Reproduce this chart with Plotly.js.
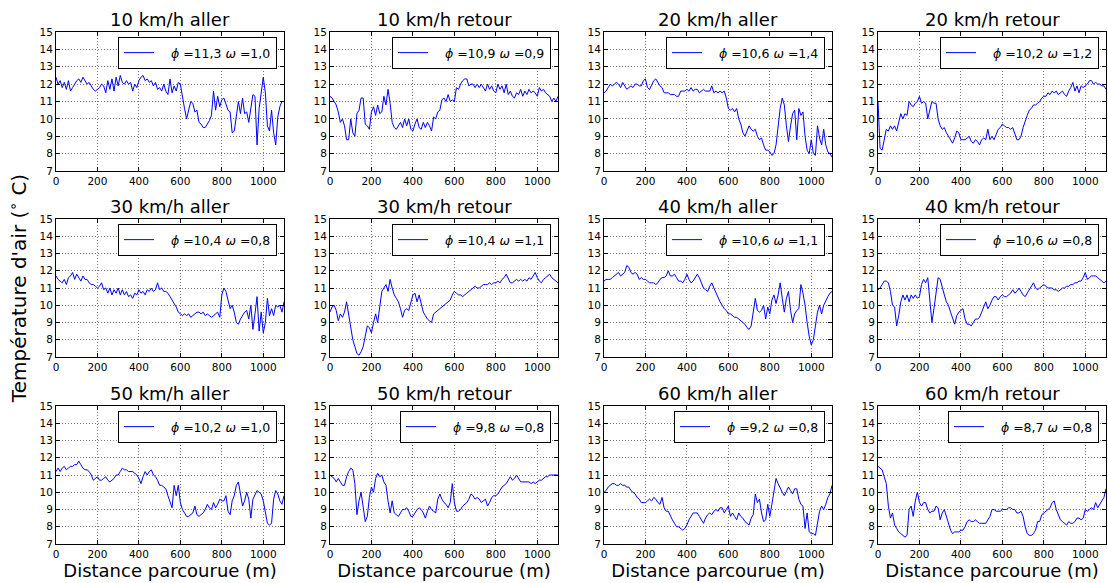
<!DOCTYPE html>
<html><head><meta charset="utf-8">
<script src="https://cdn.plot.ly/plotly-3.0.1.min.js"></script>
<style>html,body{margin:0;padding:0;background:#fff}</style>
</head><body><div id="chart" style="width:1108px;height:583px"></div>
<script>
// Distance parcourue (m) — sample positions
const distance = [
  0,10,20,30,40,50,60,70,80,90,
  100,110,120,130,140,150,160,170,180,190,
  200,210,220,230,240,250,260,270,280,290,
  300,310,320,330,340,350,360,370,380,390,
  400,410,420,430,440,450,460,470,480,490,
  500,510,520,530,540,550,560,570,580,590,
  600,610,620,630,640,650,660,670,680,690,
  700,710,720,730,740,750,760,770,780,790,
  800,810,820,830,840,850,860,870,880,890,
  900,910,920,930,940,950,960,970,980,990,
  1000,1010,1020,1030,1040,1050,1060,1070,1080,1090,
  1100];

const panelTitles = ["10 km/h aller","10 km/h retour","20 km/h aller","20 km/h retour",
                     "30 km/h aller","30 km/h retour","40 km/h aller","40 km/h retour",
                     "50 km/h aller","50 km/h retour","60 km/h aller","60 km/h retour"];
const phiValues   = ["11,3","10,9","10,6","10,2","10,4","10,4","10,6","10,6","10,2","9,8","9,2","8,7"];
const omegaValues = ["1,0","0,9","1,4","1,2","0,8","1,1","1,1","0,8","1,0","0,8","0,8","0,8"];
const xTickValues = [0,200,400,600,800,1000];
const yTickValues = [7,8,9,10,11,12,13,14,15];

const t10Aller = [
  12.4,12.0,12.2,11.8,12.1,11.7,12.2,11.6,11.8,12.0,
  12.2,12.3,12.1,12.4,12.2,12.0,12.1,11.9,11.7,11.6,
  11.7,11.8,12.0,11.9,11.5,12.2,11.7,12.3,11.6,12.4,
  11.9,12.5,12.1,12.0,12.2,12.0,12.1,11.6,12.0,11.8,
  12.2,12.4,12.5,12.2,12.3,12.1,12.2,11.9,12.1,11.7,
  11.8,11.6,12.0,11.6,11.4,12.3,11.5,11.9,11.6,12.1,
  12.0,11.2,10.6,10.0,10.5,11.0,10.9,10.4,10.5,9.8,
  9.7,9.5,9.5,9.7,9.9,10.2,11.6,10.5,11.3,10.7,
  11.1,11.2,10.8,10.5,10.4,9.2,9.3,10.2,11.0,10.3,
  11.2,10.3,10.4,9.8,10.6,11.4,11.3,8.5,10.6,11.5,
  12.4,11.5,9.6,9.3,10.5,9.2,8.5,10.1,10.7,11.0,
  11.0];
const t10Retour = [
  11.3,11.2,11.0,10.8,10.4,9.8,10.0,9.6,8.8,8.8,
  10.0,9.2,9.0,10.3,10.5,11.2,11.2,9.7,9.6,9.4,
  10.4,10.7,10.2,10.8,10.3,10.4,11.3,10.8,11.7,10.9,
  9.8,9.5,9.4,9.6,9.8,9.5,10.0,9.6,10.0,9.4,
  9.3,9.7,10.0,9.5,9.4,9.8,9.5,9.8,9.6,9.3,
  10.1,10.0,10.4,10.5,11.1,11.2,11.0,11.4,11.0,11.1,
  11.0,11.8,11.7,12.0,12.2,12.3,12.3,11.9,12.0,12.0,
  11.8,12.0,11.8,12.0,11.8,11.6,12.0,11.7,11.9,11.6,
  11.5,12.0,11.7,11.9,11.5,12.0,11.4,11.6,11.3,11.2,
  11.5,11.4,11.7,11.3,11.6,11.4,11.7,11.5,11.6,11.5,
  11.3,11.8,11.6,11.7,11.5,11.4,11.3,11.0,11.2,11.0,
  11.3];
const t20Aller = [
  11.5,11.6,11.8,12.0,11.9,12.0,12.1,12.0,11.8,12.1,
  11.9,11.7,11.8,11.9,11.8,12.0,12.0,11.9,11.9,12.2,
  12.3,11.8,11.7,12.0,12.2,12.3,12.1,11.9,11.8,11.5,
  11.5,11.5,11.4,11.4,11.4,11.3,11.3,11.6,11.6,11.6,
  11.7,11.6,11.8,11.6,11.7,11.7,11.5,11.6,11.7,11.6,
  11.6,11.6,11.9,11.5,11.6,11.5,11.6,11.5,11.6,11.2,
  10.6,10.5,10.6,10.4,10.6,10.0,9.7,9.2,9.0,9.3,
  9.6,9.4,9.3,9.4,9.0,8.8,8.9,8.5,8.2,8.2,
  8.1,7.9,8.0,8.5,9.6,10.6,11.2,10.8,9.6,8.7,
  9.6,10.3,10.5,8.8,10.6,10.2,10.4,9.0,8.2,8.0,
  8.8,8.0,7.9,9.6,8.9,8.5,9.4,8.5,8.1,8.0,
  7.8];
const t20Retour = [
  11.0,8.3,8.2,8.8,9.4,9.3,9.6,9.4,9.6,9.3,
  9.8,10.3,10.0,10.3,10.2,11.0,10.8,10.7,10.9,11.0,
  11.3,10.9,11.0,10.9,10.0,10.5,11.0,10.9,10.9,10.0,
  9.6,9.4,9.5,9.2,9.0,8.8,8.6,8.9,9.3,9.2,
  8.8,8.8,8.8,8.9,9.0,8.7,8.6,8.8,8.7,8.5,
  8.8,8.9,8.8,9.4,8.8,9.0,8.8,9.1,9.4,9.5,
  9.7,9.6,9.5,9.5,9.4,9.5,9.2,8.8,8.8,9.0,
  9.5,9.9,10.2,10.5,10.6,10.8,10.8,10.9,11.0,11.2,
  11.3,11.3,11.5,11.4,11.6,11.5,11.6,11.4,11.5,11.6,
  11.4,11.3,11.6,11.8,12.1,11.6,11.9,11.5,11.9,11.8,
  11.9,12.0,12.2,12.2,12.0,12.1,12.0,12.0,11.9,11.9,
  11.7];
const t30Aller = [
  11.7,11.5,11.4,11.3,11.5,11.2,11.6,11.7,11.9,11.5,
  11.8,11.6,11.4,11.7,11.5,11.5,11.3,11.2,11.2,11.1,
  11.0,11.1,11.3,10.9,11.0,10.7,11.0,10.6,10.9,10.7,
  11.0,10.6,10.9,10.6,10.8,10.5,10.6,10.4,10.7,10.6,
  10.9,10.7,10.8,10.6,10.9,10.8,11.0,10.8,10.9,11.3,
  10.9,11.0,10.8,10.8,10.7,10.5,10.3,10.1,9.9,9.6,
  9.5,9.4,9.5,9.4,9.5,9.3,9.4,9.5,9.6,9.6,
  9.5,9.6,9.4,9.5,9.4,9.3,9.4,9.5,9.6,9.3,
  10.6,11.0,10.8,10.3,9.8,10.0,9.6,9.0,8.9,9.2,
  9.4,9.6,9.7,9.2,10.0,8.6,9.5,10.5,8.5,9.6,
  8.4,9.0,10.4,9.4,9.8,9.4,10.0,9.9,10.0,9.6,
  10.2];
const t30Retour = [
  9.6,9.9,10.0,9.7,9.1,9.5,9.3,9.6,10.2,9.4,
  8.7,8.0,7.6,7.2,7.1,7.3,7.6,8.3,8.8,8.7,
  8.4,9.0,9.5,9.0,10.0,10.8,11.0,11.2,10.8,11.5,
  11.0,10.6,10.4,10.2,9.8,9.3,9.7,9.8,9.7,10.2,
  10.6,10.7,10.2,10.6,10.0,9.6,9.4,9.2,9.1,9.0,
  9.5,9.6,9.7,9.8,9.9,10.0,10.1,10.2,10.3,10.6,
  10.8,10.7,10.6,10.6,10.5,10.6,10.7,10.8,10.9,11.0,
  11.1,11.0,11.0,11.1,11.2,11.2,11.2,11.3,11.2,11.3,
  11.3,11.4,11.3,11.5,11.6,11.8,11.5,11.3,11.3,11.4,
  11.5,11.4,11.5,11.4,11.5,11.4,11.6,11.5,11.7,11.9,
  11.6,11.4,11.3,11.5,11.6,11.7,11.8,11.6,11.5,11.4,
  11.3];
const t40Aller = [
  11.4,11.5,11.5,11.5,11.6,11.7,11.8,11.9,11.7,11.8,
  11.9,12.3,12.2,11.9,11.8,11.9,11.8,11.5,11.6,11.5,
  11.5,11.4,11.3,11.3,11.3,11.2,11.3,11.5,11.6,11.6,
  11.7,12.0,11.7,11.7,11.8,11.6,11.4,11.4,11.3,11.5,
  11.8,11.5,11.3,11.4,11.6,11.8,11.6,11.3,11.0,10.9,
  10.8,11.1,11.3,11.0,10.7,10.5,10.2,10.0,9.8,9.7,
  9.5,9.5,9.4,9.3,9.3,9.2,9.1,9.0,8.9,8.7,
  8.6,8.8,9.6,10.4,9.7,9.6,9.7,10.0,9.2,9.9,
  9.5,10.3,10.6,10.1,10.6,11.3,10.4,9.6,10.4,10.8,
  9.7,9.0,9.5,9.7,9.8,11.2,10.7,10.0,9.0,8.2,
  7.7,8.0,8.8,9.6,10.0,9.5,10.0,10.3,10.5,10.7,
  10.8];
const t40Retour = [
  10.9,11.0,11.2,11.4,11.4,11.3,10.8,10.0,9.9,8.8,
  9.4,10.2,10.6,10.3,10.6,10.2,10.6,10.4,10.6,10.4,
  10.5,11.2,11.5,11.3,11.6,10.5,9.0,9.8,10.8,11.6,
  11.5,11.0,10.6,10.2,10.0,9.6,9.2,8.9,9.4,9.6,
  9.7,9.8,9.2,8.9,8.9,8.8,9.0,9.2,9.2,9.3,
  9.6,9.9,10.2,9.8,10.0,10.3,10.5,10.5,10.3,10.5,
  10.6,10.5,10.5,10.6,10.7,10.9,10.7,10.8,11.0,10.8,
  10.6,10.5,10.7,10.9,11.1,11.3,11.0,10.9,11.0,11.1,
  11.2,11.1,11.0,11.0,11.0,10.9,10.9,10.8,10.9,11.0,
  11.0,11.1,11.1,11.2,11.2,11.3,11.3,11.4,11.4,11.6,
  11.9,11.5,11.6,11.7,11.7,11.7,11.6,11.5,11.4,11.3,
  11.4];
const t50Aller = [
  11.2,11.4,11.2,11.4,11.5,11.3,11.4,11.5,11.5,11.6,
  11.6,11.8,11.6,11.4,11.3,11.3,11.2,11.0,10.7,10.8,
  10.9,10.7,10.7,10.8,10.9,10.7,10.6,10.7,10.8,11.0,
  11.0,11.2,11.4,11.3,11.3,11.2,11.2,11.2,11.1,11.0,
  10.8,10.5,10.9,11.2,11.0,11.2,11.3,11.0,10.9,10.7,
  10.4,10.4,10.3,10.2,9.8,9.5,9.1,10.4,9.8,10.4,
  9.4,9.0,8.8,8.6,8.6,8.7,8.8,9.2,8.7,8.6,
  8.7,8.8,9.0,9.3,9.1,9.0,9.4,9.1,9.3,9.6,
  9.5,9.5,9.8,8.9,8.7,9.5,9.8,10.4,10.6,9.9,
  9.2,9.5,10.0,9.6,8.5,9.6,9.9,10.1,10.0,9.9,
  9.5,8.8,8.2,8.1,8.2,9.6,10.1,9.9,9.5,9.3,
  9.8];
const t50Retour = [
  11.0,10.9,10.8,10.6,10.8,10.6,10.4,10.4,10.9,11.2,
  11.4,11.3,10.5,8.7,9.5,10.0,9.0,8.3,8.6,9.7,
  10.3,10.0,10.8,11.1,10.9,11.0,10.6,10.4,9.5,8.8,
  9.5,8.8,8.7,8.6,8.8,9.0,9.0,9.1,8.9,8.6,
  8.6,8.8,9.0,9.1,9.0,8.8,8.5,8.9,9.2,9.0,
  8.9,8.8,9.6,9.9,9.6,9.4,9.3,9.1,9.4,10.5,
  9.4,8.9,8.9,9.0,9.2,9.3,9.4,9.6,9.9,9.8,
  9.6,9.7,9.6,9.4,9.5,9.6,9.2,9.4,9.7,9.8,
  9.8,9.9,10.1,10.3,10.4,10.5,10.7,10.9,10.7,10.8,
  11.0,10.8,10.6,10.6,10.6,10.6,10.6,10.5,10.6,10.5,
  10.6,10.7,10.7,10.8,10.9,10.9,11.0,11.0,11.0,11.0,
  11.0];
const t60Aller = [
  10.0,10.1,10.3,10.4,10.5,10.5,10.4,10.4,10.5,10.4,
  10.4,10.3,10.3,10.1,10.0,9.9,9.7,9.6,9.4,9.4,
  9.4,9.5,9.6,9.5,9.7,9.6,9.4,9.3,9.7,9.1,
  8.9,8.9,8.6,8.4,8.2,8.0,8.0,7.9,7.8,7.9,
  8.1,8.4,8.6,8.8,8.8,8.8,8.6,8.4,8.2,8.5,
  8.7,8.8,8.7,8.9,9.0,8.9,9.1,9.1,8.8,9.0,
  9.2,8.6,8.8,8.6,8.4,8.8,8.6,8.5,8.3,8.2,
  8.1,8.5,8.7,9.9,9.4,9.6,8.8,8.3,8.4,9.3,
  8.6,9.3,10.0,10.8,10.5,10.2,10.0,9.8,10.1,10.3,
  10.1,9.9,10.2,10.2,9.6,9.3,9.2,7.9,8.8,7.7,
  7.6,7.6,7.5,8.2,8.9,9.2,9.0,9.3,9.7,9.9,
  10.4];
const t60Retour = [
  11.5,11.4,11.3,10.9,10.5,9.2,8.5,8.8,8.1,7.9,
  7.7,7.6,7.5,7.4,7.5,9.0,9.2,8.6,9.5,10.0,
  9.4,9.2,9.4,9.4,9.0,8.8,8.9,8.9,9.2,9.1,
  8.4,8.8,9.0,8.6,8.2,7.8,7.6,7.7,7.7,7.7,
  7.8,7.8,8.0,8.3,8.4,8.3,8.3,8.4,8.3,8.2,
  8.2,8.2,8.2,8.4,8.6,9.0,9.0,8.9,8.9,8.9,
  9.0,9.0,9.0,9.1,9.1,9.0,9.0,8.8,8.8,8.9,
  8.6,8.0,7.6,7.5,7.5,7.6,7.8,8.3,8.3,8.7,
  8.8,8.9,9.0,9.1,9.4,9.5,9.0,8.7,8.4,8.3,
  8.2,8.1,8.3,8.2,8.2,8.3,8.5,8.5,8.4,8.5,
  9.0,8.9,9.0,9.1,9.0,9.4,9.1,9.3,9.5,9.7,
  10.2];

const seriesList = [t10Aller,t10Retour,t20Aller,t20Retour,t30Aller,t30Retour,
                    t40Aller,t40Retour,t50Aller,t50Retour,t60Aller,t60Retour];

// ---------- layout geometry (pixels) ----------
const W = 1108, H = 583;
const colLeft = [56, 330, 604, 878];
const plotW = 228;
const rowTop = [32, 219, 406];
const rowBot = [171, 357, 544];

const traces = [];
const layout = {
  width: W, height: H, autosize: false,
  margin: {l: 0, r: 0, t: 0, b: 0, pad: 0},
  paper_bgcolor: '#ffffff', plot_bgcolor: '#ffffff',
  font: {family: 'DejaVu Sans, sans-serif', color: '#000000', size: 10.5},
  showlegend: true,
  annotations: []
};

for (let i = 0; i < 12; i++) {
  const r = Math.floor(i / 4), c = i % 4;
  const n = i + 1;
  const sfx = n === 1 ? '' : String(n);
  const x0 = colLeft[c] / W, x1 = (colLeft[c] + plotW) / W;
  const y0 = 1 - rowBot[r] / H, y1 = 1 - rowTop[r] / H;
  const legName = 'legend' + sfx;

  traces.push({
    x: distance, y: seriesList[i],
    xaxis: 'x' + sfx, yaxis: 'y' + sfx,
    type: 'scatter', mode: 'lines',
    line: {color: '#0000ff', width: 1},
    name: '\u00a0\u00a0\u00a0<i>ϕ</i> =' + phiValues[i] + ' <i>ω</i> =' + omegaValues[i],
    legend: legName, showlegend: true, hoverinfo: 'x+y'
  });

  const common = {
    showline: true, linecolor: '#000000', linewidth: 1, mirror: 'ticks',
    ticks: 'inside', ticklen: 4, tickwidth: 1, tickcolor: '#000000',
    showgrid: true, gridcolor: '#7a7a7a', gridwidth: 1, griddash: '1px,2px',
    zeroline: false, tickfont: {size: 10.5, color: '#000000'}, fixedrange: true
  };

  layout['xaxis' + sfx] = Object.assign({}, common, {
    domain: [x0, x1], anchor: 'y' + sfx, range: [0, 1100],
    tickmode: 'array', tickvals: xTickValues, ticktext: xTickValues.map(String)
  });
  if (r === 2) {
    layout['xaxis' + sfx].title = {text: 'Distance parcourue (m)', font: {size: 18}, standoff: 1};
  }
  layout['yaxis' + sfx] = Object.assign({}, common, {
    domain: [y0, y1], anchor: 'x' + sfx, range: [7, 15],
    tickmode: 'array', tickvals: yTickValues, ticktext: yTickValues.map(String)
  });
  if (i === 4) {
    layout['yaxis' + sfx].title = {text: "Température d'air (<sup>∘</sup> C)", font: {size: 20}, standoff: 7};
  }

  layout[legName] = {
    x: (colLeft[c] + plotW - 7) / W, xanchor: 'right',
    y: 1 - (rowTop[r] + 5) / H, yanchor: 'top',
    xref: 'paper', yref: 'paper',
    bgcolor: '#ffffff', bordercolor: '#000000', borderwidth: 1,
    itemwidth: 30,
    font: {size: 12.5, color: '#000000'}
  };

  layout.annotations.push({
    text: panelTitles[i], showarrow: false,
    xref: 'paper', yref: 'paper',
    x: (colLeft[c] + plotW / 2) / W, y: 1 - rowTop[r] / H,
    xanchor: 'center', yanchor: 'bottom',
    font: {size: 18, color: '#000000'}
  });
}

Plotly.newPlot('chart', traces, layout, {displayModeBar: false, staticPlot: true});
</script>
</body></html>
